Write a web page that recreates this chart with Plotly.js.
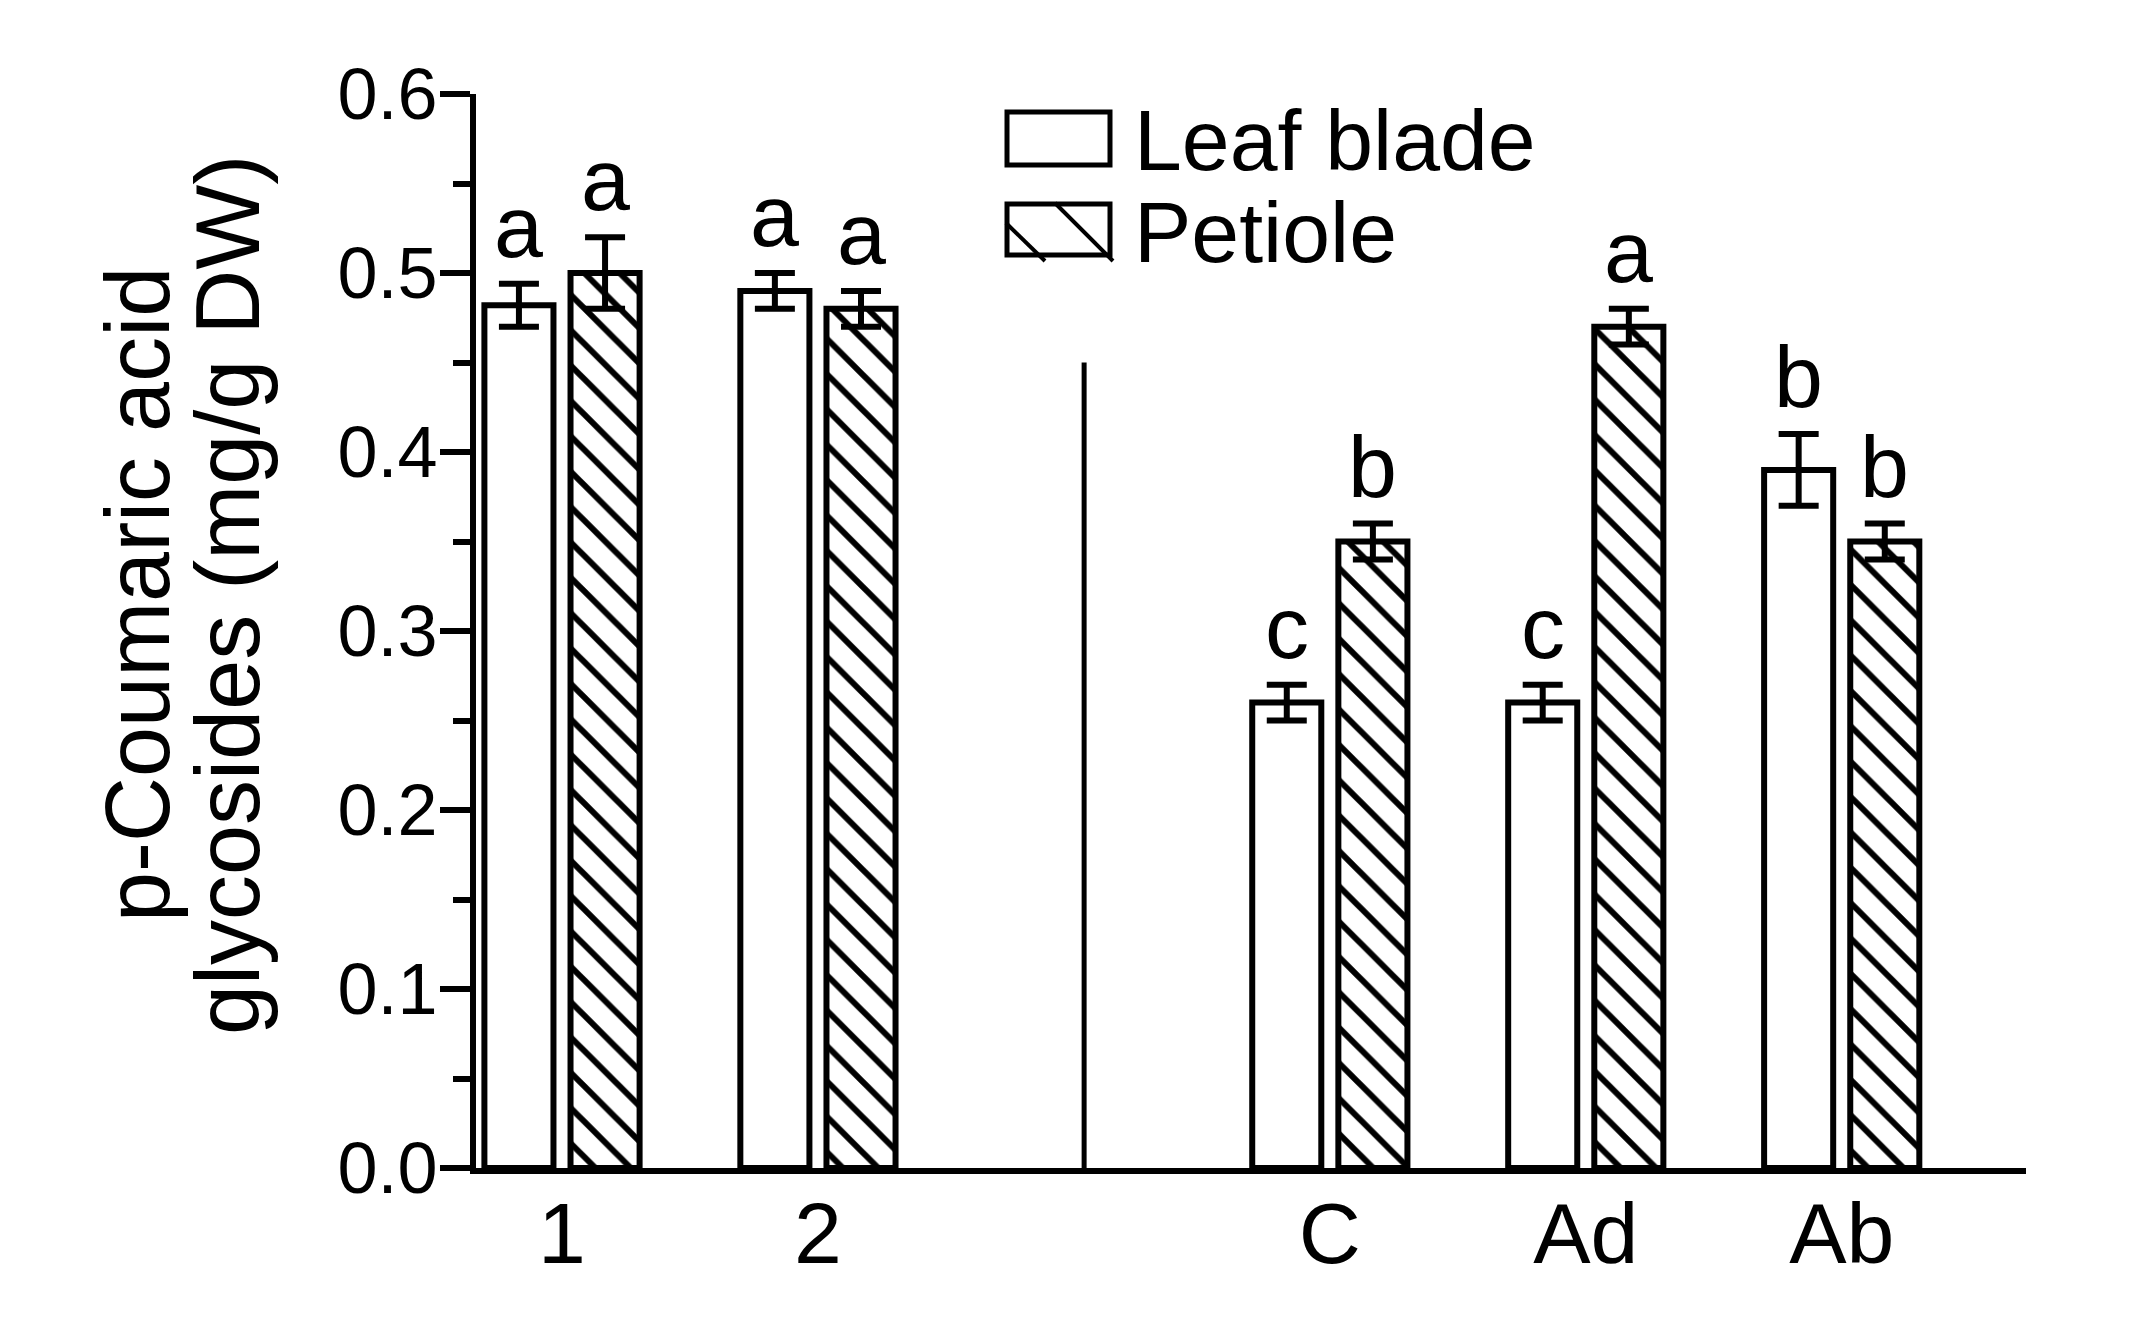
<!DOCTYPE html>
<html>
<head>
<meta charset="utf-8">
<script src="https://cdn.plot.ly/plotly-3.0.1.min.js"></script>
<style>
  html, body { margin: 0; padding: 0; background: #fff; }
  #chart { width: 2129px; height: 1322px; }
</style>
</head>
<body>
<div id="chart"></div>
<script>
// groups on the x axis (position 2 is left empty for the separator line)
const groups = ["1", "2", "C", "Ad", "Ab"];
const groupPos = [0, 1, 3, 4, 5];

// p-coumaric acid glycosides, mg/g DW, with error bars
const leafBlade = [0.482, 0.49, 0.26, 0.26, 0.39];
const leafBladeErr = [0.012, 0.01, 0.01, 0.01, 0.02];
const petiole = [0.50, 0.48, 0.35, 0.47, 0.35];
const petioleErr = [0.02, 0.01, 0.01, 0.01, 0.01];

// significance letters above each bar
const leafLetters = ["a", "a", "c", "c", "b"];
const petioleLetters = ["a", "a", "b", "a", "b"];

const W = 2129, H = 1322;
const margin = { l: 476, r: 103, t: 94, b: 154 };
const plotW = W - margin.l - margin.r;
const plotH = H - margin.t - margin.b;
// pixel -> paper helpers for the hand drawn legend and titles
const px = x => (x - margin.l) / plotW;
const py = y => (H - margin.b - y) / plotH;

const FONT = "Liberation Sans, Arial, sans-serif";
const LW = 6;

const bargap = 0.327;
const bargroupgap = 0.198;
const slot = (1 - bargap) / 2;

const errStyle = { type: "data", visible: true, color: "black", thickness: LW, width: 20 };

const traceLeaf = {
    type: "bar",
    x: groupPos,
    y: leafBlade,
    name: "Leaf blade",
    marker: { color: "white", line: { color: "black", width: LW } },
    error_y: Object.assign({ array: leafBladeErr }, errStyle),
    cliponaxis: false,
};

const tracePetiole = {
    type: "bar",
    x: groupPos,
    y: petiole,
    name: "Petiole",
    marker: {
        color: "white",
        line: { color: "black", width: LW },
        pattern: { shape: "\\", fgcolor: "black", bgcolor: "white", size: 25, solidity: 0.24, fillmode: "replace" },
    },
    error_y: Object.assign({ array: petioleErr }, errStyle),
    cliponaxis: false,
};

// letters sit just above the error bars
const annotations = [];
groupPos.forEach((g, i) => {
    annotations.push({
        x: g - slot / 2, y: leafBlade[i] + leafBladeErr[i], xref: "x", yref: "y",
        text: leafLetters[i], showarrow: false, yanchor: "bottom", yshift: 6,
        font: { family: FONT, size: 88, color: "black" },
    });
    annotations.push({
        x: g + slot / 2, y: petiole[i] + petioleErr[i], xref: "x", yref: "y",
        text: petioleLetters[i], showarrow: false, yanchor: "bottom", yshift: 6,
        font: { family: FONT, size: 88, color: "black" },
    });
});

// legend text
annotations.push({
    x: px(1132), y: py(140), xref: "paper", yref: "paper", text: "Leaf blade",
    showarrow: false, xanchor: "left", yanchor: "middle",
    font: { family: FONT, size: 86, color: "black" },
});
annotations.push({
    x: px(1132), y: py(232), xref: "paper", yref: "paper", text: "Petiole",
    showarrow: false, xanchor: "left", yanchor: "middle",
    font: { family: FONT, size: 86, color: "black" },
});

// two-line y axis title, drawn as rotated annotations
annotations.push({
    x: px(138), y: py(595), xref: "paper", yref: "paper", text: "p-Coumaric acid",
    showarrow: false, textangle: -90, xanchor: "center", yanchor: "middle",
    font: { family: FONT, size: 90, color: "black" },
});
annotations.push({
    x: px(228), y: py(595), xref: "paper", yref: "paper", text: "glycosides (mg/g DW)",
    showarrow: false, textangle: -90, xanchor: "center", yanchor: "middle",
    font: { family: FONT, size: 90, color: "black" },
});

const shapes = [
    // separator between the two experiments
    { type: "line", xref: "x", yref: "y", x0: 2.04, x1: 2.04, y0: 0, y1: 0.45, line: { color: "black", width: 5 } },
    // legend swatches
    { type: "rect", xref: "paper", yref: "paper", x0: px(1007), x1: px(1110), y0: py(112), y1: py(165),
      line: { color: "black", width: 5 }, fillcolor: "white" },
    { type: "rect", xref: "paper", yref: "paper", x0: px(1007), x1: px(1110), y0: py(204), y1: py(255),
      line: { color: "black", width: 5 }, fillcolor: "white" },
    { type: "line", xref: "paper", yref: "paper", x0: px(1055), y0: py(203), x1: px(1113), y1: py(261),
      line: { color: "black", width: 4 } },
    { type: "line", xref: "paper", yref: "paper", x0: px(1006), y0: py(223), x1: px(1045), y1: py(261),
      line: { color: "black", width: 4 } },
];

const layout = {
    width: W,
    height: H,
    margin: margin,
    paper_bgcolor: "white",
    plot_bgcolor: "white",
    showlegend: false,
    barmode: "group",
    bargap: bargap,
    bargroupgap: bargroupgap,
    font: { family: FONT, color: "black" },
    xaxis: {
        range: [-0.336, 5.72],
        tickvals: groupPos,
        ticktext: groups,
        ticks: "",
        ticklabelstandoff: -14,
        showline: true,
        linecolor: "black",
        linewidth: LW,
        showgrid: false,
        zeroline: false,
        tickfont: { family: FONT, size: 86, color: "black" },
    },
    yaxis: {
        range: [0, 0.6],
        dtick: 0.1,
        tickformat: ".1f",
        ticks: "outside",
        ticklen: 30,
        tickwidth: LW,
        tickcolor: "black",
        ticklabelstandoff: -12,
        showline: true,
        linecolor: "black",
        linewidth: LW,
        showgrid: false,
        zeroline: false,
        minor: { dtick: 0.05, ticks: "outside", ticklen: 17, tickwidth: LW, tickcolor: "black", showgrid: false },
        tickfont: { family: FONT, size: 72, color: "black" },
    },
    annotations: annotations,
    shapes: shapes,
};

Plotly.newPlot("chart", [traceLeaf, tracePetiole], layout, { displayModeBar: false, staticPlot: true });
</script>
</body>
</html>
